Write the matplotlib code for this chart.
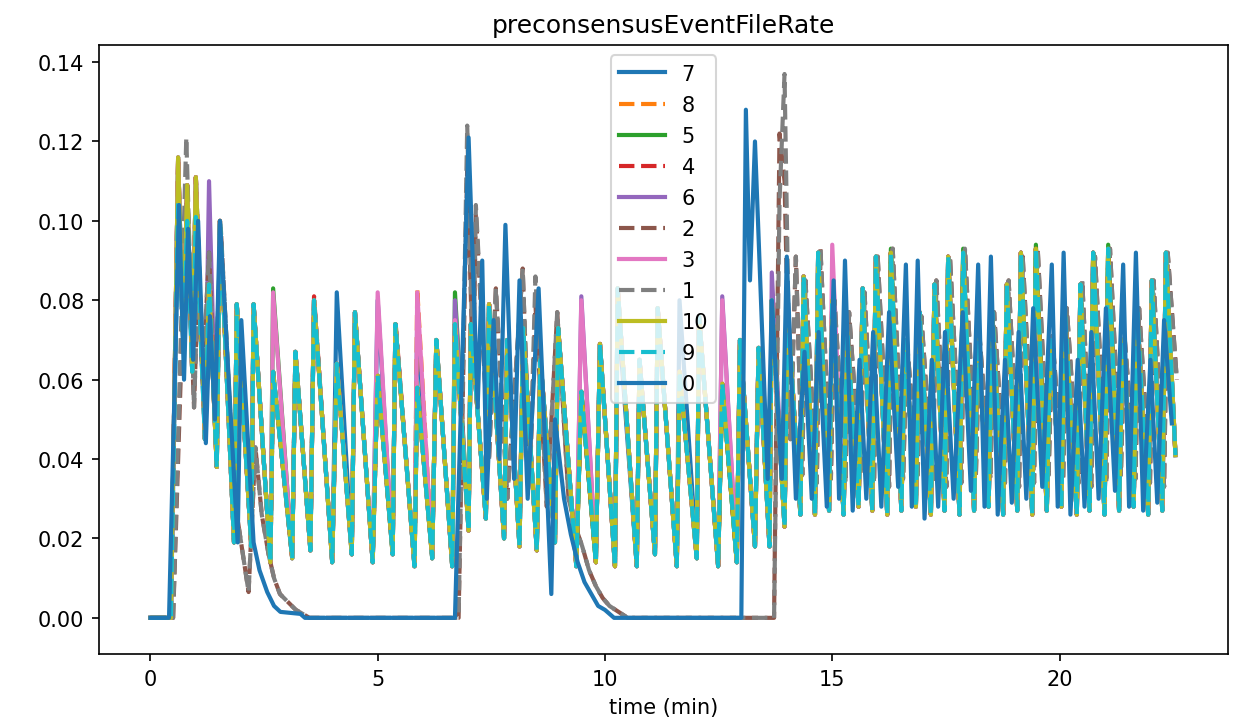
# coding: utf-8
# Import packages
import matplotlib
matplotlib.use("Agg")
import matplotlib.pyplot as plt


# Turning points (time in minutes, rate per node)
# Shared trace of the nodes that run in step (4, 5, 6, 8, 9, 10; 3 and 7 mostly too)
grp_t = [0.0, 0.45, 0.61, 0.72, 0.81, 0.92, 1.00, 1.20, 1.29, 1.46, 1.53, 1.84, 1.90,
         2.22, 2.27, 2.64, 2.70, 3.12, 3.19, 3.52, 3.60, 4.00, 4.10, 4.43, 4.50,
         4.89, 5.00, 5.33, 5.39, 5.81, 5.87, 6.20, 6.29, 6.64, 6.70, 7.00, 7.05,
         7.38, 7.45, 7.78, 7.85, 8.12, 8.20, 8.50, 8.58, 8.90, 8.97, 9.37, 9.48,
         9.80, 9.89, 10.22, 10.28, 10.70, 10.76, 11.10, 11.16, 11.58, 11.64,
         12.02, 12.07, 12.49, 12.58, 12.90, 12.97, 13.30, 13.38, 13.62, 13.67,
         13.95, 14.02, 14.30, 14.37, 14.62, 14.69, 14.93, 15.00, 15.25, 15.33,
         15.58, 15.67, 15.88, 15.96, 16.21, 16.29, 16.52, 16.60, 16.84, 16.92,
         17.17, 17.25, 17.47, 17.55, 17.80, 17.88, 18.12, 18.20, 18.44, 18.52,
         18.76, 18.84, 19.07, 19.15, 19.40, 19.48, 19.72, 19.80, 20.04, 20.12,
         20.38, 20.46, 20.66, 20.74, 20.99, 21.07, 21.31, 21.39, 21.63, 21.71,
         21.95, 22.03, 22.26, 22.34, 22.55]
grp_y = [0.0, 0.0, 0.116, 0.070, 0.109, 0.062, 0.111, 0.045, 0.084, 0.038, 0.100, 0.019, 0.079,
         0.018, 0.079, 0.014, 0.062, 0.015, 0.067, 0.017, 0.080, 0.014, 0.064, 0.016, 0.077,
         0.014, 0.061, 0.016, 0.074, 0.013, 0.058, 0.015, 0.070, 0.013, 0.074, 0.022, 0.074,
         0.025, 0.079, 0.020, 0.070, 0.018, 0.073, 0.017, 0.065, 0.019, 0.073, 0.013, 0.057,
         0.014, 0.069, 0.013, 0.083, 0.013, 0.065, 0.016, 0.078, 0.013, 0.062,
         0.015, 0.076, 0.013, 0.059, 0.014, 0.070, 0.018, 0.068, 0.018, 0.080,
         0.023, 0.078, 0.026, 0.086, 0.026, 0.092, 0.027, 0.080, 0.026, 0.072,
         0.028, 0.083, 0.027, 0.091, 0.026, 0.092, 0.027, 0.070, 0.028, 0.077,
         0.026, 0.084, 0.027, 0.091, 0.026, 0.092, 0.027, 0.070, 0.028, 0.077,
         0.026, 0.084, 0.027, 0.092, 0.026, 0.093, 0.027, 0.070, 0.028, 0.077,
         0.026, 0.084, 0.027, 0.092, 0.026, 0.093, 0.027, 0.070, 0.028, 0.077,
         0.026, 0.085, 0.027, 0.092, 0.041]

# Node 0: two bursts that die out, then a third run to the end
n0_t = [0.0, 0.41, 0.63, 0.74, 0.83, 0.94, 1.05, 1.22, 1.31, 1.42, 1.53, 1.92, 2.00,
        2.27, 2.40, 2.57, 2.72, 2.86, 3.30, 3.40, 6.70, 7.00, 7.20, 7.30, 7.40, 7.55, 7.68,
        7.81, 8.00, 8.12, 8.30, 8.54, 8.82, 8.90, 9.10, 9.25, 9.40, 9.55, 9.70, 9.85,
        10.00, 10.20,
        13.00, 13.10, 13.19, 13.30, 13.58, 13.67, 13.89, 14.00, 14.20, 14.39,
        14.55, 14.70, 14.88, 15.03, 15.15, 15.28, 15.45, 15.60, 15.75, 15.90,
        16.08, 16.25, 16.45, 16.62, 16.75, 16.88, 17.03, 17.19, 17.33, 17.48,
        17.67, 17.87, 18.05, 18.21, 18.35, 18.49, 18.64, 18.80, 18.95, 19.10,
        19.27, 19.42, 19.62, 19.83, 19.96, 20.09, 20.24, 20.40, 20.55, 20.70,
        20.86, 21.02, 21.22, 21.40, 21.53, 21.68, 21.84, 22.00, 22.15, 22.30, 22.47]
n0_y = [0.0, 0.0, 0.104, 0.060, 0.098, 0.065, 0.100, 0.044, 0.076, 0.050, 0.100, 0.019, 0.075,
        0.019, 0.012, 0.0065, 0.003, 0.0015, 0.001, 0.0, 0.0, 0.121, 0.053, 0.090, 0.030,
        0.075, 0.040,
        0.099, 0.035, 0.085, 0.030, 0.083, 0.006, 0.050, 0.030, 0.021, 0.014, 0.009, 0.006,
        0.003, 0.002, 0.0,
        0.0, 0.128, 0.085, 0.120, 0.035, 0.080, 0.035, 0.091, 0.030, 0.067,
        0.030, 0.072, 0.028, 0.085, 0.030, 0.090, 0.027, 0.065, 0.030, 0.072,
        0.028, 0.077, 0.033, 0.089, 0.028, 0.090, 0.025, 0.065, 0.028, 0.072,
        0.030, 0.077, 0.032, 0.089, 0.028, 0.091, 0.026, 0.065, 0.029, 0.072,
        0.030, 0.078, 0.033, 0.089, 0.028, 0.092, 0.026, 0.065, 0.028, 0.072,
        0.030, 0.078, 0.032, 0.089, 0.028, 0.092, 0.027, 0.065, 0.029, 0.075, 0.049]

# Nodes 1 and 2: start late in each burst and lag a little
n1_t = [0.0, 0.50, 0.79, 0.96, 1.05, 1.15, 1.29, 1.42, 1.55, 1.85, 2.16, 2.31, 2.45, 2.60,
        2.72, 2.85, 3.20, 3.50, 6.78, 6.97, 7.10, 7.16, 7.45, 7.60, 7.85, 8.19, 8.35,
        8.47, 8.72, 8.95, 9.20, 9.35, 9.50, 9.65, 9.80, 9.95, 10.10, 10.50, 13.72,
        13.84, 13.95, 14.08,
        14.20, 14.34, 14.41, 14.66, 14.74, 14.97, 15.05, 15.29, 15.37, 15.62,
        15.71, 15.92, 16.00, 16.25, 16.33, 16.56, 16.64, 16.88, 16.96, 17.21,
        17.29, 17.51, 17.59, 17.84, 17.92, 18.16, 18.24, 18.48, 18.56, 18.80,
        18.88, 19.11, 19.19, 19.44, 19.52, 19.76, 19.84, 20.08, 20.16, 20.42,
        20.50, 20.70, 20.78, 21.03, 21.11, 21.35, 21.43, 21.67, 21.75, 21.99,
        22.07, 22.30, 22.38, 22.58]
n1_y = [0.0, 0.0, 0.121, 0.053, 0.085, 0.060, 0.092, 0.055, 0.098, 0.030, 0.0065, 0.043,
        0.026, 0.016, 0.010, 0.006, 0.002, 0.0, 0.0, 0.124, 0.060, 0.104, 0.040, 0.083,
        0.030, 0.088, 0.035,
        0.086, 0.028, 0.077, 0.030, 0.023, 0.018, 0.012, 0.008, 0.005, 0.003, 0.0, 0.0,
        0.105, 0.137, 0.045,
        0.091, 0.036, 0.085, 0.034, 0.093, 0.035, 0.080, 0.034, 0.077, 0.036,
        0.082, 0.034, 0.091, 0.033, 0.093, 0.035, 0.070, 0.036, 0.076, 0.034,
        0.085, 0.033, 0.091, 0.034, 0.093, 0.036, 0.071, 0.035, 0.077, 0.034,
        0.085, 0.033, 0.091, 0.034, 0.093, 0.036, 0.071, 0.035, 0.078, 0.034,
        0.085, 0.033, 0.091, 0.034, 0.093, 0.036, 0.071, 0.035, 0.078, 0.034,
        0.085, 0.033, 0.092, 0.060]

# Peaks where a single node stands out from its shared trace
peaks_node7 = {0.61: 0.105, 0.81: 0.098, 1.00: 0.100, 4.10: 0.082, 5.00: 0.080,
               5.87: 0.076, 10.28: 0.078, 11.64: 0.080}
peaks_node8 = {5.87: 0.083, 14.69: 0.088}
peaks_node5 = {2.70: 0.083, 6.70: 0.082, 16.29: 0.093, 17.88: 0.093, 19.48: 0.094,
               21.07: 0.094}
peaks_node4 = {3.60: 0.081, 5.39: 0.075, 14.69: 0.087}
peaks_node6 = {1.29: 0.110, 6.70: 0.080, 9.48: 0.081, 12.58: 0.081, 13.67: 0.087,
               16.29: 0.088, 17.88: 0.088, 19.48: 0.088, 21.07: 0.088}
peaks_node2 = {0.79: 0.105, 6.97: 0.114, 7.16: 0.102, 8.47: 0.079, 13.84: 0.122,
               13.95: 0.110}
peaks_node3 = {2.70: 0.082, 5.00: 0.082, 5.87: 0.082, 6.70: 0.075, 9.48: 0.080,
               12.58: 0.080, 15.00: 0.094, 16.29: 0.085, 17.88: 0.085, 19.48: 0.085,
               21.07: 0.085}
peaks_node9 = {0.61: 0.105, 0.81: 0.100, 1.00: 0.101}

# Legend order as in the chart
labels = ["7", "8", "5", "4", "6", "2", "3", "1", "10", "9", "0"]


def with_peaks(t, y, peaks=None):
    '''
    ---------------------
    Input: shared trace and the peaks of one node
    Output: values for that node
    ---------------------
    '''
    y = list(y)
    if peaks:
        for i, tv in enumerate(t):
            if tv in peaks:
                y[i] = peaks[tv]
    return t, y


def main(path="out.png"):
    series = {
        "7": with_peaks(grp_t, grp_y, peaks_node7),
        "8": with_peaks(grp_t, grp_y, peaks_node8),
        "5": with_peaks(grp_t, grp_y, peaks_node5),
        "4": with_peaks(grp_t, grp_y, peaks_node4),
        "6": with_peaks(grp_t, grp_y, peaks_node6),
        "2": with_peaks(n1_t, n1_y, peaks_node2),
        "3": with_peaks(grp_t, grp_y, peaks_node3),
        "1": with_peaks(n1_t, n1_y),
        "10": with_peaks(grp_t, grp_y),
        "9": with_peaks(grp_t, grp_y, peaks_node9),
        "0": with_peaks(n0_t, n0_y),
    }

    fig, ax = plt.subplots(figsize=(8.287, 4.833), dpi=150)
    fig.subplots_adjust(left=0.0797, right=0.988, top=0.9366, bottom=0.0966)

    # Solid and dashed lines alternate, colours follow the default cycle
    for i, name in enumerate(labels):
        t, y = series[name]
        style = "-" if i % 2 == 0 else "--"
        ax.plot(t, y, style, linewidth=2, label=name)

    ax.set_ylim(-0.0091, 0.1443)
    ax.set_title("preconsensusEventFileRate")
    ax.set_xlabel("time (min)")
    ax.legend(loc="upper center", handlelength=2.2, labelspacing=0.53)

    fig.savefig(path)


if __name__ == '__main__':
    main()
